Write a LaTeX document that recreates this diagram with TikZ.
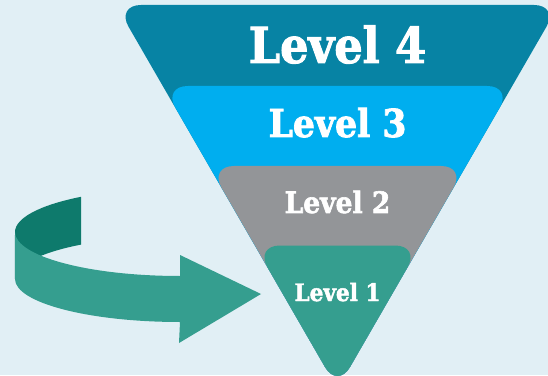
\documentclass[tikz,border=0pt]{standalone}
\usepackage{fontspec}
\newfontfamily\slab[FakeStretch=0.9, BoldFeatures={FakeBold=2}]{DejaVu Serif}
\definecolor{bgc}{HTML}{E1EFF5}
\definecolor{lvfour}{HTML}{0783A4}
\definecolor{lvthree}{HTML}{00AEEF}
\definecolor{lvtwo}{HTML}{939598}
\definecolor{lvone}{HTML}{359E8F}
\definecolor{arrdark}{HTML}{0E7A6C}
\tikzset{
  tier/.style={rounded corners=25pt},
  lbl/.style={text=white, anchor=base, inner sep=0pt, font=\slab\bfseries}
}
\begin{document}
\begin{tikzpicture}[x=1pt,y=1pt]
\fill[bgc] (0,0) rectangle (548,375);
\useasboundingbox (0,0) rectangle (548,375);
\coordinate (apex) at (337.5,-13.6);
% tiers
\fill[lvfour,tier] (116,370) -- (559,370) -- (apex) -- cycle;
\fill[lvthree,tier] (162.8,289) -- (512.2,289) -- (apex) -- cycle;
\fill[lvtwo,tier] (209,209) -- (466,209) -- (apex) -- cycle;
\fill[lvone,tier] (254.9,129.5) -- (420.1,129.5) -- (apex) -- cycle;
% labels
\node[lbl, font=\slab\bfseries\fontsize{49.5}{49.5}\selectfont] (l4) at (337.5,312) {Level 4};
\node[lbl, font=\slab\bfseries\fontsize{38.5}{38.5}\selectfont] (l3) at (337.5,238) {Level 3};
\node[lbl, font=\slab\bfseries\fontsize{29.5}{29.5}\selectfont] (l2) at (337.5,162) {Level 2};
\node[lbl, font=\slab\bfseries\fontsize{24}{24}\selectfont] (l1) at (337.5,74) {Level 1};
% curved arrow: back (inner) band
\fill[arrdark] (15,143) arc[start angle=180, end angle=126.87, x radius=165pt, y radius=44pt]
  -- (81,130.4) arc[start angle=126.87, end angle=180, x radius=165pt, y radius=43pt] -- cycle;
% front band with head
\fill[lvone] (15,143) arc[start angle=180, end angle=270, x radius=165pt, y radius=44pt]
  -- (180,120) -- (261,81) -- (179,32) -- (180,53)
  arc[start angle=270, end angle=180, x radius=165pt, y radius=43pt] -- cycle;
\end{tikzpicture}
\end{document}
